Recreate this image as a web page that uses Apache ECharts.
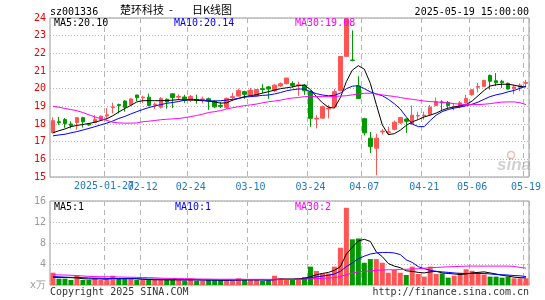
<!DOCTYPE html>
<html>
<head>
<meta charset="utf-8">
<script src="https://cdn.jsdelivr.net/npm/echarts@6/dist/echarts.min.js"></script>
<style>
  html, body { margin: 0; padding: 0; background: #fff; }
  #chart { width: 545px; height: 300px; }
</style>
</head>
<body>
<div id="chart"></div>
<script>
// trading days shown on the chart
const dates = [
  '2025-01-14','2025-01-15','2025-01-16','2025-01-17','2025-01-20','2025-01-21','2025-01-22','2025-01-23','2025-01-24','2025-01-27',
  '2025-02-05','2025-02-06','2025-02-07','2025-02-10','2025-02-11','2025-02-12','2025-02-13','2025-02-14','2025-02-17','2025-02-18',
  '2025-02-19','2025-02-20','2025-02-21','2025-02-24','2025-02-25','2025-02-26','2025-02-27','2025-02-28','2025-03-03','2025-03-04',
  '2025-03-05','2025-03-06','2025-03-07','2025-03-10','2025-03-11','2025-03-12','2025-03-13','2025-03-14','2025-03-17','2025-03-18',
  '2025-03-19','2025-03-20','2025-03-21','2025-03-24','2025-03-25','2025-03-26','2025-03-27','2025-03-28','2025-03-31','2025-04-01',
  '2025-04-02','2025-04-03','2025-04-07','2025-04-08','2025-04-09','2025-04-10','2025-04-11','2025-04-14','2025-04-15','2025-04-16',
  '2025-04-17','2025-04-18','2025-04-21','2025-04-22','2025-04-23','2025-04-24','2025-04-25','2025-04-28','2025-04-29','2025-04-30',
  '2025-05-06','2025-05-07','2025-05-08','2025-05-09','2025-05-12','2025-05-13','2025-05-14','2025-05-15','2025-05-16','2025-05-19'
]
// dates that get a tick label and a dashed line
const labelDates = ['2025-01-27','2025-02-12','2025-02-24','2025-03-10','2025-03-24','2025-04-07','2025-04-21','2025-05-06','2025-05-19']

const opens = [
  17.52,18.13,18.25,18.00,18.08,18.36,18.00,18.08,18.23,18.45,
  18.92,19.10,19.30,19.08,19.64,19.48,19.52,19.08,18.95,19.40,
  19.71,19.52,19.53,19.35,19.38,19.38,19.43,19.30,19.05,18.93,
  19.50,19.58,19.83,19.62,19.60,20.00,20.10,19.87,20.15,20.28,
  20.30,20.17,20.20,19.83,18.28,18.33,18.85,18.98,19.90,21.83,
  21.62,20.15,18.30,17.20,16.63,17.55,17.52,17.70,18.07,18.28,
  18.00,18.45,18.45,18.55,19.05,19.25,19.22,18.95,18.97,19.20,
  19.66,20.08,20.13,20.75,20.45,20.42,20.30,20.00,20.08,20.30
]
const closes = [
  18.19,18.07,18.02,17.92,18.36,18.12,17.95,18.27,18.45,18.52,
  18.97,19.05,18.95,19.42,19.49,19.52,19.05,19.12,19.45,19.25,
  19.50,19.56,19.35,19.56,19.33,19.42,19.30,18.97,19.00,19.45,
  19.55,19.90,19.68,19.92,19.95,19.95,19.98,20.20,20.28,20.60,
  20.18,20.22,19.88,18.32,18.33,18.98,18.90,19.83,21.82,23.95,
  21.60,19.44,17.50,16.72,17.20,17.60,17.56,18.10,18.37,18.15,
  18.50,18.48,18.50,18.95,19.27,19.20,19.05,18.98,19.20,19.45,
  19.94,20.12,20.47,20.42,20.33,20.33,19.98,20.10,20.20,20.35
]
const lows = [
  17.45,17.95,17.78,17.75,17.68,17.80,17.90,18.05,18.20,18.25,
  18.60,18.60,18.70,19.05,19.30,19.20,19.00,18.85,18.87,18.87,
  18.90,19.35,19.20,19.25,19.15,19.18,18.80,18.90,18.90,18.85,
  19.30,19.55,19.43,19.58,19.55,19.75,19.43,19.80,20.10,20.25,
  20.05,19.60,19.65,17.84,17.75,18.30,18.32,18.95,19.85,21.80,
  21.55,19.44,17.35,16.35,15.10,17.40,17.40,17.65,18.00,17.50,
  17.95,18.25,18.25,18.50,19.00,18.75,18.90,18.78,18.90,19.15,
  19.60,19.80,20.10,19.95,20.15,20.05,19.95,19.68,19.85,20.15
]
const highs = [
  18.38,18.40,18.34,18.15,18.40,18.40,18.05,18.50,18.47,18.90,
  19.20,19.15,19.35,19.45,19.65,19.60,19.72,19.22,19.52,19.45,
  19.72,19.68,19.65,19.65,19.66,19.55,19.50,19.35,19.25,19.50,
  19.77,20.00,19.88,20.05,19.98,20.25,20.15,20.25,20.35,20.62,
  20.42,20.40,20.25,19.90,18.50,19.05,19.08,19.98,21.85,24.00,
  23.30,20.70,18.35,17.55,17.45,17.70,17.85,18.20,18.40,18.32,
  19.05,18.70,18.70,19.08,19.50,19.35,19.30,19.18,19.30,19.65,
  19.98,20.33,20.50,20.80,20.88,20.50,20.35,20.22,20.30,20.50
]
// price moving averages as drawn
const ma5 = [
  17.50,17.62,17.72,17.85,17.92,17.97,18.03,18.10,18.20,18.30,
  18.47,18.68,18.88,19.05,19.25,19.32,19.32,19.32,19.32,19.33,
  19.35,19.38,19.36,19.36,19.34,19.32,19.30,19.25,19.18,19.20,
  19.35,19.45,19.55,19.60,19.66,19.75,19.83,19.92,20.00,20.05,
  20.10,20.18,20.20,19.95,19.55,19.20,18.95,18.90,19.50,20.40,
  21.05,21.30,21.10,20.30,19.10,17.95,17.40,17.45,17.65,17.92,
  18.12,18.25,18.40,18.50,18.62,18.78,18.90,18.97,19.02,19.10,
  19.30,19.60,19.90,20.15,20.22,20.25,20.25,20.20,20.12,20.10
]
const ma10 = [
  17.33,17.38,17.42,17.50,17.57,17.66,17.75,17.85,17.95,18.05,
  18.17,18.32,18.43,18.57,18.70,18.82,18.93,19.02,19.10,19.17,
  19.22,19.27,19.35,19.40,19.38,19.35,19.31,19.30,19.32,19.35,
  19.40,19.45,19.52,19.55,19.58,19.62,19.64,19.70,19.78,19.88,
  19.94,19.98,19.98,19.83,19.72,19.64,19.60,19.62,19.75,20.00,
  20.14,20.17,20.00,19.82,19.70,19.60,19.40,19.15,18.85,18.40,
  18.00,17.85,17.85,18.20,18.50,18.70,18.82,18.90,18.96,19.03,
  19.12,19.24,19.40,19.55,19.65,19.72,19.82,19.90,20.02,20.14
]
const ma30 = [
  19.00,18.95,18.88,18.82,18.75,18.65,18.52,18.40,18.30,18.20,
  18.10,18.06,18.05,18.05,18.06,18.13,18.16,18.20,18.24,18.27,
  18.29,18.31,18.36,18.42,18.48,18.56,18.65,18.70,18.76,18.85,
  18.92,18.98,19.04,19.08,19.13,19.20,19.26,19.30,19.35,19.42,
  19.47,19.50,19.55,19.55,19.55,19.55,19.55,19.56,19.58,19.60,
  19.65,19.70,19.74,19.74,19.70,19.65,19.60,19.56,19.50,19.44,
  19.40,19.35,19.30,19.27,19.25,19.22,19.20,19.15,19.12,19.10,
  19.10,19.10,19.12,19.15,19.20,19.24,19.25,19.25,19.20,19.10
]
// volume (万) and its moving averages as drawn
const volumes = [
  2.34,1.20,1.20,0.95,1.77,0.95,0.95,1.27,0.95,0.95,
  1.77,1.14,1.14,1.14,0.95,0.95,0.95,0.95,1.00,0.95,
  0.95,1.08,0.82,1.27,0.82,0.82,0.95,0.95,0.95,0.95,
  0.82,1.27,0.95,0.95,0.95,0.82,0.82,1.77,1.27,0.95,
  0.95,0.95,1.50,3.50,2.66,2.20,2.20,3.50,7.10,14.70,
  8.70,8.86,4.24,4.94,4.94,4.24,2.34,2.85,2.34,1.90,
  3.50,2.10,1.60,3.50,2.10,2.20,1.40,1.77,2.34,3.00,
  2.70,2.40,2.00,1.60,1.60,1.40,1.60,1.27,1.27,1.27
]
const volMa5 = [
  1.45,1.45,1.42,1.40,1.35,1.20,1.15,1.18,1.15,1.08,
  1.25,1.20,1.25,1.25,1.20,1.08,1.05,1.00,1.00,0.97,
  0.97,1.00,0.95,1.00,0.98,0.95,0.95,0.95,0.90,0.92,
  0.90,0.98,0.98,1.00,1.00,1.00,0.90,1.05,1.15,1.15,
  1.15,1.20,1.25,1.60,1.95,2.20,2.40,2.80,3.50,5.90,
  7.20,8.40,8.70,8.30,6.30,5.40,4.10,3.60,3.30,2.70,
  2.60,2.40,2.30,2.50,2.60,2.30,2.20,2.10,2.00,2.10,
  2.30,2.40,2.50,2.30,2.10,1.85,1.70,1.50,1.40,1.35
]
const volMa10 = [
  1.60,1.55,1.50,1.45,1.45,1.40,1.35,1.30,1.30,1.25,
  1.25,1.20,1.20,1.20,1.18,1.15,1.12,1.12,1.10,1.08,
  1.05,1.02,1.00,1.00,1.00,0.98,0.97,0.97,0.95,0.95,
  0.95,0.97,0.97,0.98,0.98,0.97,0.95,1.00,1.05,1.05,
  1.05,1.08,1.12,1.40,1.55,1.70,1.85,2.10,2.60,3.50,
  4.20,5.00,5.50,5.90,6.10,6.20,6.20,6.10,5.80,4.80,
  4.30,3.50,3.10,2.80,2.60,2.50,2.40,2.30,2.20,2.20,
  2.20,2.20,2.20,2.10,2.00,1.95,1.90,1.80,1.75,1.60
]
const volMa30 = [
  1.95,1.92,1.90,1.85,1.80,1.72,1.65,1.60,1.58,1.56,
  1.55,1.52,1.50,1.48,1.45,1.42,1.40,1.36,1.30,1.27,
  1.25,1.22,1.20,1.18,1.15,1.13,1.12,1.10,1.10,1.10,
  1.10,1.10,1.08,1.08,1.08,1.08,1.08,1.08,1.08,1.08,
  1.08,1.08,1.10,1.18,1.22,1.28,1.32,1.40,1.60,2.00,
  2.25,2.50,2.60,2.70,2.80,2.85,2.90,2.90,2.95,3.00,
  3.05,3.10,3.20,3.30,3.35,3.40,3.45,3.50,3.55,3.60,
  3.60,3.60,3.60,3.60,3.60,3.60,3.60,3.55,3.35,3.20
]

const UP = '#ff5555'
const DOWN = '#009900'
const MONO = 'DejaVu Sans Mono'
const GRID_LINE = '#b4b4b4'
const DATE_BLUE = '#1f78c8'

const isLabeled = (idx) => labelDates.includes(dates[idx])
// the first (full) date label overlaps its neighbour, so it is drawn as its own text
const isShortLabel = (idx) => isLabeled(idx) && dates[idx] !== labelDates[0]

const candleData = dates.map((d, i) => [opens[i], closes[i], lows[i], highs[i]])

function text(x, y, str, color, opts = {}) {
  const align = opts.align || 'left'
  return {
    type: 'text',
    x, y,
    z: 100,
    style: {
      text: str,
      fill: color,
      font: opts.font || `10px "${MONO}"`,
      align, textAlign: align,
      verticalAlign: 'middle', textVerticalAlign: 'middle',
    },
  }
}

const chart = echarts.init(document.getElementById('chart'), null, { renderer: 'canvas' })

chart.setOption({
  animation: false,
  backgroundColor: '#fff',
  grid: [
    { left: 50, top: 18, width: 479, height: 159, show: true, borderColor: '#999', borderWidth: 1 },
    { left: 50, top: 201, width: 479, height: 84, show: true, borderColor: '#999', borderWidth: 1 },
  ],
  xAxis: [
    {
      type: 'category',
      gridIndex: 0,
      data: dates,
      boundaryGap: true,
      axisLine: { show: false },
      axisTick: { show: false },
      axisLabel: {
        interval: (idx) => isShortLabel(idx),
        formatter: (v) => v.slice(5),
        color: DATE_BLUE,
        fontFamily: MONO,
        fontSize: 10,
        margin: 5,
      },
      splitLine: {
        show: true,
        interval: (idx) => isLabeled(idx),
        lineStyle: { color: GRID_LINE, type: [5, 4], width: 1 },
      },
    },
    {
      type: 'category',
      gridIndex: 1,
      data: dates,
      boundaryGap: true,
      axisLine: { show: false },
      axisTick: { show: false },
      axisLabel: { show: false },
      splitLine: {
        show: true,
        interval: (idx) => isLabeled(idx),
        lineStyle: { color: GRID_LINE, type: [5, 4], width: 1 },
      },
    },
  ],
  yAxis: [
    {
      type: 'value',
      gridIndex: 0,
      min: 15,
      max: 24,
      interval: 1,
      axisLine: { show: false },
      axisTick: { show: false },
      axisLabel: { color: '#ee0000', fontFamily: MONO, fontSize: 10, margin: 4 },
      splitLine: { lineStyle: { color: GRID_LINE, type: [1, 2] } },
    },
    {
      type: 'value',
      gridIndex: 1,
      min: 0,
      max: 16,
      interval: 4,
      axisLine: { show: false },
      axisTick: { show: false },
      axisLabel: {
        color: '#999',
        fontFamily: MONO,
        fontSize: 10,
        margin: 4,
        formatter: (v) => (v === 0 ? 'x万' : v),
      },
      splitLine: { lineStyle: { color: GRID_LINE, type: [1, 2] } },
    },
  ],
  series: [
    {
      type: 'candlestick',
      xAxisIndex: 0,
      yAxisIndex: 0,
      data: candleData,
      barWidth: 4,
      itemStyle: {
        color: UP,
        color0: DOWN,
        borderColor: UP,
        borderColor0: DOWN,
        borderWidth: 1,
      },
      z: 2,
    },
    { type: 'line', xAxisIndex: 0, yAxisIndex: 0, data: ma5, symbol: 'none', lineStyle: { color: '#000', width: 1 }, z: 3 },
    { type: 'line', xAxisIndex: 0, yAxisIndex: 0, data: ma10, symbol: 'none', lineStyle: { color: '#0000ff', width: 1 }, z: 3 },
    { type: 'line', xAxisIndex: 0, yAxisIndex: 0, data: ma30, symbol: 'none', lineStyle: { color: '#ff00ff', width: 1 }, z: 3 },
    {
      type: 'bar',
      xAxisIndex: 1,
      yAxisIndex: 1,
      data: volumes,
      barWidth: 5,
      itemStyle: {
        color: (p) => (closes[p.dataIndex] >= opens[p.dataIndex] ? UP : DOWN),
      },
      z: 2,
    },
    { type: 'line', xAxisIndex: 1, yAxisIndex: 1, data: volMa5, symbol: 'none', lineStyle: { color: '#000', width: 1 }, z: 3 },
    { type: 'line', xAxisIndex: 1, yAxisIndex: 1, data: volMa10, symbol: 'none', lineStyle: { color: '#0000ff', width: 1 }, z: 3 },
    { type: 'line', xAxisIndex: 1, yAxisIndex: 1, data: volMa30, symbol: 'none', lineStyle: { color: '#ff00ff', width: 1 }, z: 3 },
  ],
  graphic: [
    text(50, 12, 'sz001336', '#000'),
    text(120, 10, '楚环科技', '#000', { font: '11px "Noto Sans CJK SC"' }),
    text(169, 10, '-', '#000', { font: '11px "Noto Sans CJK SC"' }),
    text(192, 10, '日K线图', '#000', { font: '11px "Noto Sans CJK SC"' }),
    text(529, 12, '2025-05-19 15:00:00', '#000', { align: 'right' }),
    text(104, 186, labelDates[0], DATE_BLUE, { align: 'center' }),
    text(54, 23, 'MA5:20.10', '#000'),
    text(174, 23, 'MA10:20.14', '#0000ff'),
    text(295, 23, 'MA30:19.08', '#ff00ff'),
    text(54, 207, 'MA5:1', '#000'),
    text(175, 207, 'MA10:1', '#0000ff'),
    text(295, 207, 'MA30:2', '#ff00ff'),
    text(50, 292, 'Copyright 2025 SINA.COM', '#333'),
    text(529, 292, 'http://finance.sina.com.cn', '#333', { align: 'right' }),
    {
      type: 'circle',
      shape: { cx: 511, cy: 155, r: 3.5 },
      style: { fill: 'none', stroke: 'rgba(230,120,120,0.5)', lineWidth: 1.5 },
      z: 1,
    },
    text(497, 165, 'sina', 'rgba(150,150,150,0.45)', { font: 'italic bold 17px "Liberation Sans"' }),
  ],
})
</script>
</body>
</html>
